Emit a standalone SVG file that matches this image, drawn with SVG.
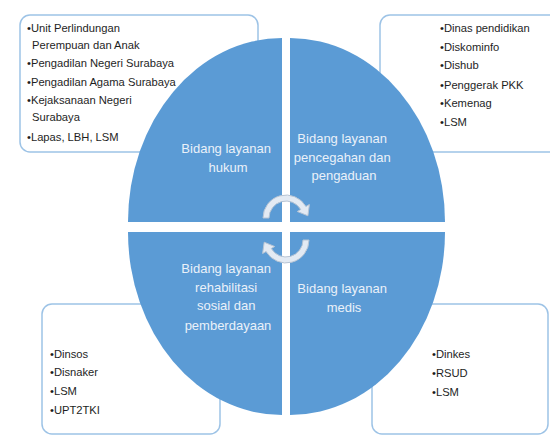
<svg xmlns="http://www.w3.org/2000/svg" width="550" height="437" viewBox="0 0 550 437">
  <style>
    .box { fill: #ffffff; stroke: #9dc3e6; stroke-width: 1.5; }
    .quad { fill: #5b9bd5; }
    .list { font-family: "Liberation Sans", Arial, sans-serif; font-size: 11.2px; fill: #1e1e1e; }
    .label { font-family: "Liberation Sans", Arial, sans-serif; font-size: 13px; fill: #eaf1f9; text-anchor: middle; }
    .cyc { fill: #e3eaf3; stroke: #b7c4d4; stroke-width: 1; }
  </style>
  <rect width="550" height="437" fill="#ffffff"/>

  <g id="box-hukum">
    <rect class="box" x="20" y="15" width="238" height="137" rx="10"/>
    <text class="list">
      <tspan x="27" y="32">•Unit Perlindungan</tspan>
      <tspan x="32" y="49">Perempuan dan Anak</tspan>
      <tspan x="27" y="67">•Pengadilan Negeri Surabaya</tspan>
      <tspan x="27" y="86">•Pengadilan Agama Surabaya</tspan>
      <tspan x="27" y="104">•Kejaksanaan Negeri</tspan>
      <tspan x="32" y="121">Surabaya</tspan>
      <tspan x="27" y="141">•Lapas, LBH, LSM</tspan>
    </text>
  </g>

  <g id="box-pencegahan">
    <rect class="box" x="380" y="15" width="180" height="137" rx="10"/>
    <text class="list">
      <tspan x="440" y="32">•Dinas pendidikan</tspan>
      <tspan x="440" y="51">•Diskominfo</tspan>
      <tspan x="440" y="69">•Dishub</tspan>
      <tspan x="440" y="89">•Penggerak PKK</tspan>
      <tspan x="440" y="107">•Kemenag</tspan>
      <tspan x="440" y="126">•LSM</tspan>
    </text>
  </g>

  <g id="box-rehabilitasi">
    <rect class="box" x="42" y="304" width="178" height="130" rx="10"/>
    <text class="list">
      <tspan x="50" y="358">•Dinsos</tspan>
      <tspan x="50" y="376">•Disnaker</tspan>
      <tspan x="50" y="395">•LSM</tspan>
      <tspan x="50" y="414">•UPT2TKI</tspan>
    </text>
  </g>

  <g id="box-medis">
    <rect class="box" x="372" y="304" width="176" height="130" rx="10"/>
    <text class="list">
      <tspan x="432" y="358">•Dinkes</tspan>
      <tspan x="432" y="377">•RSUD</tspan>
      <tspan x="432" y="396">•LSM</tspan>
    </text>
  </g>

  <g id="quad-hukum">
    <path class="quad" d="M282,222 L128,222 A154,184 0 0 1 282,38 Z"/>
    <text class="label">
      <tspan x="228" y="152.5">Bidang layanan</tspan>
      <tspan x="228" y="171.5">hukum</tspan>
    </text>
  </g>

  <g id="quad-pencegahan">
    <path class="quad" d="M290,222 L290,38 A155,184 0 0 1 445,222 Z"/>
    <text class="label">
      <tspan x="344" y="142.5">Bidang layanan</tspan>
      <tspan x="344" y="161.5">pencegahan dan</tspan>
      <tspan x="344" y="179.5">pengaduan</tspan>
    </text>
  </g>

  <g id="quad-rehabilitasi">
    <path class="quad" d="M282,232 L282,415 A154,183 0 0 1 128,232 Z"/>
    <text class="label">
      <tspan x="228" y="272.5">Bidang layanan</tspan>
      <tspan x="228" y="291.5">rehabilitasi</tspan>
      <tspan x="228" y="309.5">sosial dan</tspan>
      <tspan x="228" y="329.5">pemberdayaan</tspan>
    </text>
  </g>

  <g id="quad-medis">
    <path class="quad" d="M290,232 L445,232 A155,183 0 0 1 290,415 Z"/>
    <text class="label">
      <tspan x="344" y="292.5">Bidang layanan</tspan>
      <tspan x="344" y="311.5">medis</tspan>
    </text>
  </g>

  <g id="connectors">
    <path class="cyc" d="M263,218 A23,23 0 0 1 305.9,206.5 L309.4,204.5 L307.9,215.8 L297.3,211.5 L300.7,209.5 A17,17 0 0 0 269,218 Z"/>
    <path class="cyc" d="M309,240 A23,23 0 0 1 266.1,251.5 L262.6,253.5 L264.2,242.2 L274.7,246.5 L271.3,248.5 A17,17 0 0 0 303,240 Z"/>
  </g>
</svg>
